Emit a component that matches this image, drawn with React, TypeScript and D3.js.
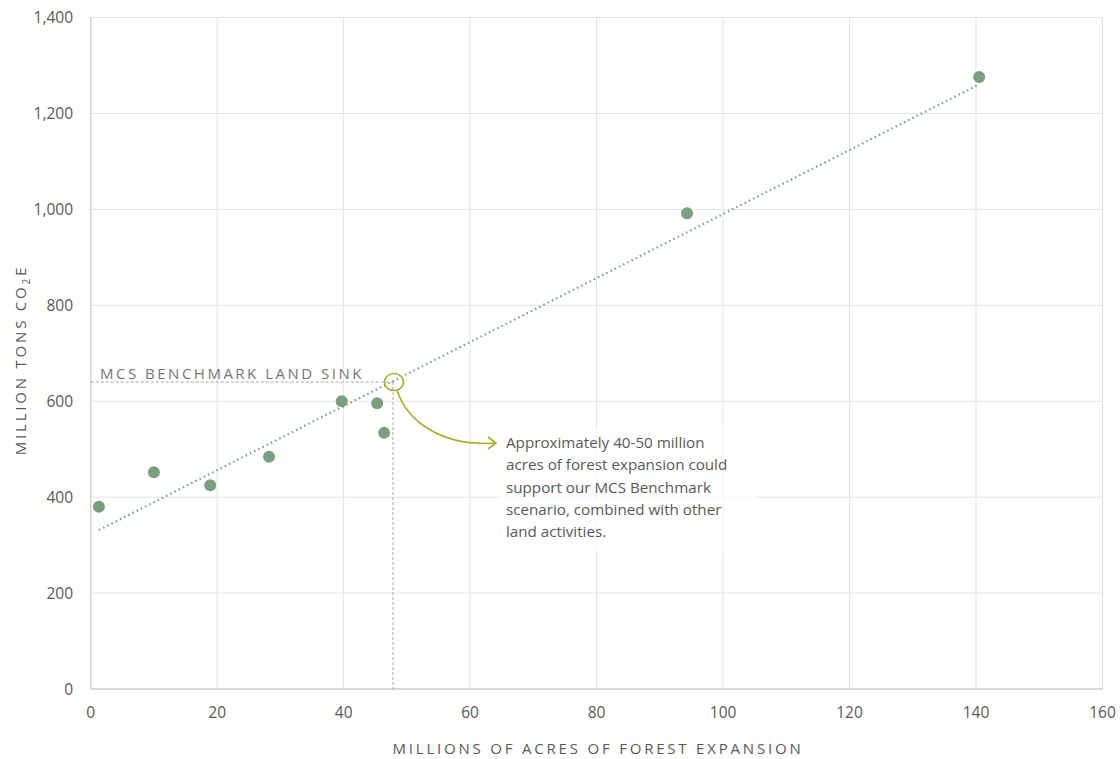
import React from "react";
import * as d3 from "d3";

const acres = [1.3, 10.0, 18.9, 28.2, 39.7, 45.3, 46.4, 94.3, 140.5];
const tons = [380, 452, 425, 484, 600, 596, 534, 992, 1276];
const xTicks = [0, 20, 40, 60, 80, 100, 120, 140, 160];
const yTicks = [0, 200, 400, 600, 800, 1000, 1200, 1400];
const benchmarkValue = 640;
const benchmarkAcres = 47.8;
const noteLines = [
  "Approximately 40-50 million",
  "acres of forest expansion could",
  "support our MCS Benchmark",
  "scenario, combined with other",
  "land activities.",
];

const W = 1120;
const H = 759;
const FONT = "'Open Sans', 'Noto Sans', sans-serif";

export default function App() {
  const x = d3.scaleLinear().domain([0, 160]).range([90.7, 1102.5]);
  const y = d3.scaleLinear().domain([0, 1400]).range([689, 17.5]);

  // least-squares trendline from the data
  const mx = d3.mean(acres)!;
  const my = d3.mean(tons)!;
  const sxy = d3.sum(acres.map((a, i) => (a - mx) * (tons[i] - my)));
  const sxx = d3.sum(acres.map((a) => (a - mx) ** 2));
  const slope = sxy / sxx;
  const intercept = my - slope * mx;
  const x0 = d3.min(acres)!;
  const x1 = d3.max(acres)!;
  const trend = d3.line<number>()
    .x((d) => x(d))
    .y((d) => y(intercept + slope * d))([x0, x1]);

  const bx = x(benchmarkAcres);
  const by = y(benchmarkValue);

  const gridColor = "#e3e3e3";
  const axisColor = "#d0d0d0";
  const textColor = "#595959";
  const olive = "#a9ad2c";
  const green = "#7b9e7d";

  const arrowEndX = 496;
  const arrowEndY = 443;

  return (
    <svg width={W} height={H} style={{ position: "absolute", left: 0, top: 0, fontFamily: FONT }}>
      <rect x={0} y={0} width={W} height={H} fill="#ffffff" />
      {/* grid */}
      {yTicks.map((t) => (
        <line key={"gy" + t} x1={x(0)} x2={x(160)} y1={y(t)} y2={y(t)} stroke={gridColor} strokeWidth={1} />
      ))}
      {xTicks.map((t) => (
        <line key={"gx" + t} x1={x(t)} x2={x(t)} y1={y(0)} y2={y(1400)} stroke={gridColor} strokeWidth={1} />
      ))}
      {/* axes */}
      <line x1={x(0)} x2={x(0)} y1={y(0)} y2={y(1400)} stroke={axisColor} strokeWidth={1.3} />
      <line x1={x(0)} x2={x(160)} y1={y(0)} y2={y(0)} stroke={axisColor} strokeWidth={1.3} />

      {/* tick labels */}
      {yTicks.map((t) => (
        <text key={"ly" + t} x={73} y={y(t) + 5.5} textAnchor="end" fontSize={15.5} fill={textColor}>
          {d3.format(",")(t)}
        </text>
      ))}
      {xTicks.map((t) => (
        <text key={"lx" + t} x={x(t)} y={718} textAnchor="middle" fontSize={15.5} fill={textColor}>
          {t}
        </text>
      ))}

      {/* axis titles */}
      <text x={598} y={754} textAnchor="middle" fontSize={15} fill={textColor} letterSpacing={2.8}>
        MILLIONS OF ACRES OF FOREST EXPANSION
      </text>
      <text
        transform={`translate(26, 360) rotate(-90)`}
        textAnchor="middle"
        fontSize={15}
        fill={textColor}
        letterSpacing={2.8}
      >
        MILLION TONS CO<tspan fontSize={10} dy={4}>2</tspan><tspan dy={-4}>E</tspan>
      </text>

      {/* benchmark guides */}
      <line x1={x(0)} x2={bx} y1={by} y2={by} stroke="#a6a6a6" strokeWidth={1} strokeDasharray="3,2" />
      <line x1={bx} x2={bx} y1={by} y2={y(0)} stroke="#a6a6a6" strokeWidth={1} strokeDasharray="3,2" />
      <text x={100} y={by - 3} fontSize={15} fill="#767676" letterSpacing={2.5}>
        MCS BENCHMARK LAND SINK
      </text>

      {/* trendline */}
      <path d={trend!} fill="none" stroke={green} strokeWidth={2.2} strokeDasharray="1.5,3.2" strokeLinecap="butt" />

      {/* points */}
      {acres.map((a, i) => (
        <circle key={"p" + i} cx={x(a)} cy={y(tons[i])} r={6} fill={green} />
      ))}

      {/* annotation */}
      <ellipse cx={bx + 1} cy={by} rx={9.5} ry={8.5} fill="none" stroke={olive} strokeWidth={1.6} />
      <path
        d={`M ${bx + 4} ${by + 8} C ${bx + 14} ${by + 40}, ${bx + 50} ${arrowEndY + 4}, ${arrowEndX} ${arrowEndY}`}
        fill="none"
        stroke={olive}
        strokeWidth={1.6}
      />
      <path
        d={`M ${arrowEndX - 8} ${arrowEndY - 6} L ${arrowEndX} ${arrowEndY} L ${arrowEndX - 8} ${arrowEndY + 6}`}
        fill="none"
        stroke={olive}
        strokeWidth={1.6}
      />
      <rect x={498} y={427} width={258} height={126} fill="#ffffff" fillOpacity={0.65} />
      {noteLines.map((l, i) => (
        <text key={"n" + i} x={506} y={448 + i * 22.3} fontSize={15.2} fill={textColor}>
          {l}
        </text>
      ))}
    </svg>
  );
}
